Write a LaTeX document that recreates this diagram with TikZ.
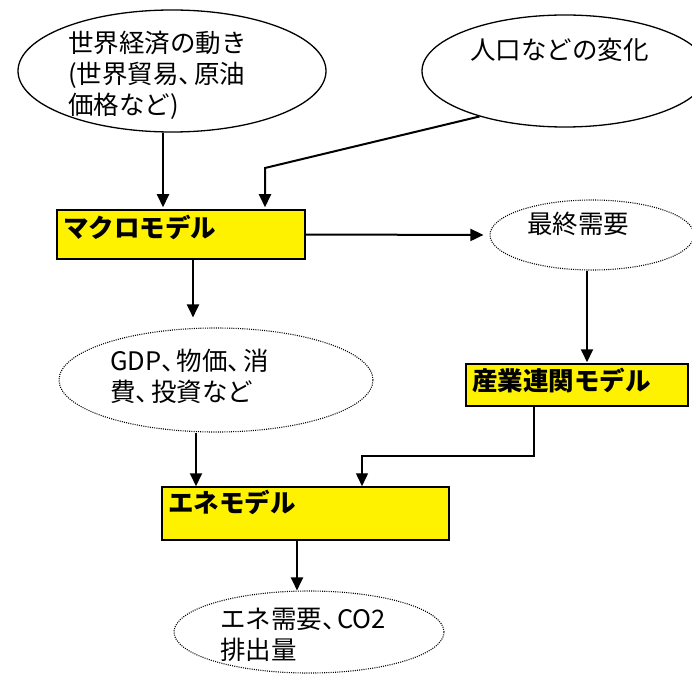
\documentclass[tikz,border=0pt]{standalone}
\usepackage{fontspec}
\setmainfont{Noto Sans CJK JP}
\usetikzlibrary{shapes.geometric,arrows.meta}
\newcommand\ncomma{\makebox[0.6em][l]{、}}
\tikzset{
 oval/.style={draw, ellipse, line width=1.3pt, inner sep=0pt},
 dotoval/.style={draw, ellipse, line width=1.1pt, dash pattern=on 1pt off 1.2pt, inner sep=0pt},
 modelbox/.style={draw, fill=yellow, line width=1.5pt, inner sep=0pt, rectangle},
 txt/.style={anchor=west, inner sep=0pt, align=left, font=\fontsize{25.5}{31}\selectfont},
 btxt/.style={anchor=west, inner sep=0pt, align=left, font=\fontsize{25.5}{31}\selectfont\bfseries},
 arr/.style={line width=2pt, -{Triangle[length=13pt,width=12pt]}},
 thinarr/.style={line width=1.4pt, -{Triangle[length=13pt,width=12pt]}},
}
\begin{document}
\begin{tikzpicture}[x=1pt,y=-1pt]
\useasboundingbox (0,0) rectangle (692,676);
\clip (0,0) rectangle (692,676);
% nodes
\node[oval, minimum width=308, minimum height=122] (w) at (172,71) {};
\node[txt] (wt) at (68,75) {世界経済の動き\\(世界貿易\ncomma 原油\\価格など)};
\node[oval, minimum width=286, minimum height=112] (p) at (565,71) {};
\node[txt] (pt) at (470,50) {人口などの変化};
\node[modelbox, minimum width=248, minimum height=49] (m) at (181,234.5) {};
\node[btxt] (mt) at (63,227) {マクロモデル};
\node[dotoval, minimum width=204, minimum height=70] (f) at (592,235) {};
\node[txt] (ft) at (527,224) {最終需要};
\node[dotoval, minimum width=314, minimum height=104] (g) at (216,380) {};
\node[txt] (gt) at (110,376) {GDP\ncomma 物価\ncomma 消\\費\ncomma 投資など};
\node[modelbox, minimum width=222, minimum height=42] (i) at (577,385) {};
\node[btxt] (it) at (472,381) {産業連関モデル};
\node[modelbox, minimum width=287, minimum height=53] (e) at (305.5,513.5) {};
\node[btxt] (et) at (168,502) {エネモデル};
\node[dotoval, minimum width=270, minimum height=82] (o) at (309,632) {};
\node[txt] (ot) at (220,635) {エネ需要\ncomma CO2\\排出量};
% helper coordinates
\coordinate (c1) at (163,0);
\coordinate (k1) at (265,168);
\coordinate (c3) at (193,0);
\coordinate (c4) at (587,0);
\coordinate (c5) at (196,0);
\coordinate (k2) at (534,456);
\coordinate (k3) at (362,456);
\coordinate (c6) at (297,0);
% connectors
\draw[arr, shorten >=2pt] (w.south -| c1) -- (m.north -| c1);
\draw[arr, shorten >=2pt] (p.208) -- (k1) -- (k1 |- m.north);
\draw[arr, shorten >=6pt] (m.east) -- (f.west);
\draw[arr, shorten >=10pt] (m.south -| c3) -- (g.north -| c3);
\draw[arr, shorten >=1pt] (f.south -| c4) -- (i.north -| c4);
\draw[arr] (g.south -| c5) -- (e.north -| c5);
\draw[thinarr] (i.south -| k2) -- (k2) -- (k3) -- (k3 |- e.north);
\draw[arr] (e.south -| c6) -- (o.north -| c6);
\end{tikzpicture}
\end{document}
